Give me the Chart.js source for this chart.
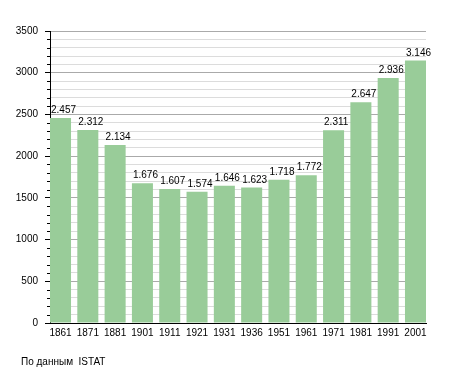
<!DOCTYPE html>
<html>
<head>
<meta charset="utf-8">
<script src="https://cdn.jsdelivr.net/npm/chart.js@4"></script>
<style>
  html, body { margin: 0; padding: 0; background: #fff; }
  #wrap { position: relative; width: 455px; height: 373px; }
  #source { position: absolute; left: 21px; top: 356px; font: 10px "Liberation Sans", Arial, sans-serif; color: #000; white-space: pre; }
</style>
</head>
<body>
<div id="wrap">
  <canvas id="popChart" width="455" height="373"></canvas>
  <div id="source">По данным  ISTAT</div>
</div>
<script>
const years = ['1861', '1871', '1881', '1901', '1911', '1921', '1931', '1936', '1951', '1961', '1971', '1981', '1991', '2001'];
const population = [2457, 2312, 2134, 1676, 1607, 1574, 1646, 1623, 1718, 1772, 2311, 2647, 2936, 3146];
const yMajor = 500;

const FONT = '"Liberation Sans", Arial, sans-serif';

function fmt(v) {
    return String(v).replace(/\B(?=(\d{3})+(?!\d))/g, '.');
}

// small ticks for the 100-steps, major ones come from Chart.js itself
const minorTicks = {
    id: 'minorTicks',
    afterDraw(chart) {
        const y = chart.scales.y;
        const ctx = chart.ctx;
        ctx.save();
        ctx.strokeStyle = '#000';
        ctx.lineWidth = 1;
        y.ticks.forEach(t => {
            if (t.value % yMajor === 0) return;
            const py = Math.round(y.getPixelForValue(t.value)) + 0.5;
            ctx.beginPath();
            ctx.moveTo(y.right - 3, py);
            ctx.lineTo(y.right, py);
            ctx.stroke();
        });
        ctx.restore();
    }
};

const valueLabels = {
    id: 'valueLabels',
    afterDatasetsDraw(chart) {
        const ctx = chart.ctx;
        const meta = chart.getDatasetMeta(0);
        ctx.save();
        ctx.font = '10px ' + FONT;
        ctx.fillStyle = '#000';
        ctx.textAlign = 'left';
        ctx.textBaseline = 'alphabetic';
        meta.data.forEach((bar, i) => {
            ctx.fillText(fmt(population[i]), bar.x - bar.width / 2 + 1, bar.y - 5);
        });
        ctx.restore();
    }
};

document.addEventListener('DOMContentLoaded', function() {
    const ctx = document.getElementById('popChart').getContext('2d');
    new Chart(ctx, {
        type: 'bar',
        data: {
            datasets: [{
                data: population.map((v, i) => ({ x: i, y: v })),
                backgroundColor: '#99cc99',
                borderWidth: 0,
                categoryPercentage: 1,
                barPercentage: 0.77
            }]
        },
        options: {
            responsive: false,
            devicePixelRatio: 1,
            animation: false,
            layout: { padding: { top: 31, right: 29, left: 0, bottom: 0 } },
            plugins: {
                legend: { display: false },
                tooltip: { enabled: false }
            },
            scales: {
                x: {
                    type: 'linear',
                    offset: false,
                    min: -0.385,
                    max: years.length - 1 + 0.385,
                    grid: { display: false, drawTicks: false, offset: false },
                    border: { display: true, color: '#000', width: 1 },
                    ticks: {
                        stepSize: 1,
                        includeBounds: false,
                        autoSkip: false,
                        maxRotation: 0,
                        padding: 4,
                        color: '#000',
                        font: { family: FONT, size: 10 },
                        callback: v => Number.isInteger(v) ? years[v] : ''
                    },
                    afterFit: s => { s.height = 50; }
                },
                y: {
                    min: 0,
                    max: 3500,
                    grid: {
                        color: c => (c.tick && c.tick.value % yMajor === 0) ? '#aaaaaa' : '#dcdcdc',
                        tickColor: c => (c.tick && c.tick.value % yMajor === 0) ? '#000' : 'rgba(0,0,0,0)',
                        tickLength: 5
                    },
                    border: { display: true, color: '#000', width: 1 },
                    ticks: {
                        stepSize: 100,
                        autoSkip: false,
                        padding: 7,
                        color: '#000',
                        font: { family: FONT, size: 10 },
                        callback: v => v % yMajor === 0 ? v : ''
                    },
                    afterFit: s => { s.width = 50; }
                }
            }
        },
        plugins: [minorTicks, valueLabels]
    });
});
</script>
</body>
</html>
